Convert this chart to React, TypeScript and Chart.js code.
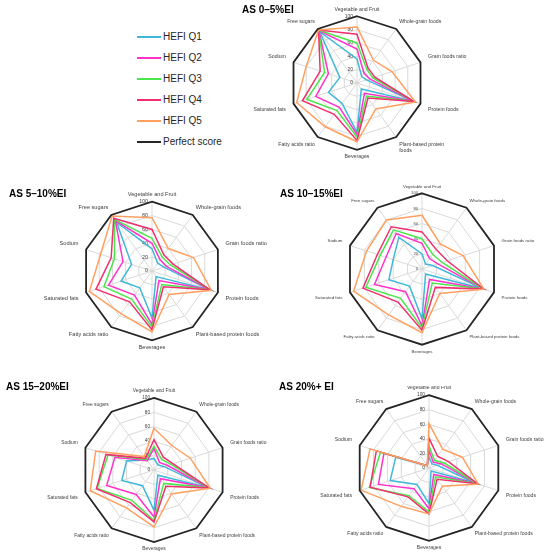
import { useEffect, useRef } from 'react';
import { Chart, registerables } from 'chart.js';

Chart.register(...registerables);

const FONT = '"Liberation Sans", Arial, sans-serif';

const categories = [
  'Vegetable and Fruit',
  'Whole-grain foods',
  'Grain foods ratio',
  'Protein foods',
  'Plant-based protein foods',
  'Beverages',
  'Fatty acids ratio',
  'Saturated fats',
  'Sodium',
  'Free sugars',
];

const seriesNames = ['HEFI Q1', 'HEFI Q2', 'HEFI Q3', 'HEFI Q4', 'HEFI Q5', 'Perfect score'];
const seriesColors = ['#40B8D8', '#FF33CC', '#4CE64C', '#F0306E', '#FFA060', '#262626'];

const perfectScore = [100, 100, 100, 100, 100, 100, 100, 100, 100, 100];

// AS 0–5%EI
const as0to5Q1 = [36, 12, 15, 89, 11, 74, 38, 45, 27, 95];
const as0to5Q2 = [51, 18, 20, 89, 19, 77, 45, 65, 45, 97];
const as0to5Q3 = [60, 25, 25, 90, 24, 81, 51, 79, 51, 98];
const as0to5Q4 = [73, 28, 28, 90, 28, 86, 58, 86, 58, 98];
const as0to5Q5 = [84, 42, 55, 92, 48, 88, 81, 95, 80, 98];

// AS 5–10%EI
const as5to10Q1 = [32, 14, 18, 87, 10, 68, 30, 47, 31, 87];
const as5to10Q2 = [40, 20, 22, 88, 17, 77, 43, 66, 44, 90];
const as5to10Q3 = [47, 25, 28, 88, 24, 81, 50, 73, 57, 92];
const as5to10Q4 = [60, 29, 32, 88, 28, 85, 55, 85, 62, 94];
const as5to10Q5 = [77, 40, 63, 90, 42, 88, 76, 95, 78, 98];

// AS 10–15%EI
const as10to15Q1 = [20, 8, 15, 84, 8, 66, 28, 46, 40, 52];
const as10to15Q2 = [34, 17, 22, 85, 17, 75, 37, 66, 50, 58];
const as10to15Q3 = [40, 24, 28, 85, 23, 78, 48, 78, 58, 64];
const as10to15Q4 = [49, 32, 35, 86, 30, 81, 54, 82, 62, 69];
const as10to15Q5 = [71, 41, 57, 86, 40, 84, 75, 95, 77, 80];

// AS 15–20%EI
const as15to20Q1 = [16, 9, 15, 78, 9, 56, 27, 47, 40, 17];
const as15to20Q2 = [30, 13, 20, 80, 15, 65, 42, 69, 57, 16];
const as15to20Q3 = [33, 18, 25, 80, 23, 70, 52, 83, 67, 18];
const as15to20Q4 = [42, 22, 28, 81, 28, 72, 56, 84, 70, 20];
const as15to20Q5 = [58, 42, 53, 82, 41, 79, 65, 93, 85, 23];

// AS 20%+ EI
const as20plusQ1 = [15, 7, 12, 66, 5, 49, 28, 56, 48, 4];
const as20plusQ2 = [24, 10, 18, 69, 11, 56, 35, 73, 65, 4];
const as20plusQ3 = [30, 13, 22, 70, 15, 60, 47, 86, 70, 4];
const as20plusQ4 = [41, 20, 28, 70, 19, 63, 49, 85, 76, 4];
const as20plusQ5 = [61, 32, 48, 71, 31, 63, 65, 98, 85, 4];

// padding of each axis label, larger on the side axes like Excel does
const labelPadding = [4, 5, 8, 8, 5, 4, 5, 8, 8, 5];

interface PanelProps {
  title: string;
  titleX: number;
  titleY: number;
  cx: number;
  cy: number;
  radius: number;
  fontSize: number;
  labels: (string | string[])[];
  series: number[][];
}

// radial tick labels drawn right-aligned just left of the vertical axis
const leftTicksPlugin = {
  id: 'leftTicks',
  beforeDatasetsDraw(chart: any, _args: any, opts: any) {
    const scale = chart.scales.r;
    const ctx = chart.ctx;
    ctx.save();
    ctx.font = `${opts.size}px ${FONT}`;
    ctx.fillStyle = '#404040';
    ctx.textAlign = 'right';
    ctx.textBaseline = 'middle';
    scale.ticks.forEach((t: any) => {
      const p = scale.getPointPositionForValue(0, t.value);
      ctx.fillText(String(t.value), p.x - 4, p.y);
    });
    ctx.restore();
  },
};

function RadarPanel({ title, titleX, titleY, cx, cy, radius, fontSize, labels, series }: PanelProps) {
  const chartRef = useRef<HTMLCanvasElement>(null);
  const chartInstance = useRef<Chart | null>(null);

  // canvas height so that Chart.js fits the radar to the wanted radius
  const half = Math.round(radius + 4 + 1.2 * fontSize);
  const height = half * 2;
  const halfW = 150;

  useEffect(() => {
    if (!chartRef.current) return;
    if (chartInstance.current) {
      chartInstance.current.destroy();
    }
    const ctx = chartRef.current.getContext('2d');
    if (!ctx) return;

    chartInstance.current = new Chart(ctx, {
      type: 'radar',
      data: {
        labels: labels,
        datasets: [...series, perfectScore].map((values, i) => ({
          label: seriesNames[i],
          data: values,
          borderColor: seriesColors[i],
          backgroundColor: 'transparent',
          borderWidth: i === 5 ? 1.8 : 1.5,
          fill: false,
          pointRadius: 0,
          order: 5 - i,
        })),
      },
      options: {
        responsive: false,
        animation: false,
        plugins: {
          legend: { display: false },
          tooltip: { enabled: false },
          leftTicks: { size: fontSize * 0.95 },
        } as any,
        elements: { line: { tension: 0 } },
        scales: {
          r: {
            min: 0,
            max: 100,
            ticks: { stepSize: 20, display: false },
            grid: { color: '#D9D9D9', lineWidth: 1 },
            angleLines: { color: '#D9D9D9', lineWidth: 1 },
            pointLabels: {
              color: '#404040',
              font: { family: FONT, size: fontSize },
              padding: (c: any) => labelPadding[c.index],
            },
          },
        },
      },
      plugins: [leftTicksPlugin],
    });

    return () => {
      if (chartInstance.current) {
        chartInstance.current.destroy();
        chartInstance.current = null;
      }
    };
  }, [labels, series, fontSize]);

  return (
    <>
      <canvas
        ref={chartRef}
        width={halfW * 2}
        height={height}
        style={{ position: 'absolute', left: cx - halfW, top: cy - half, width: halfW * 2, height }}
      />
      <div
        style={{
          position: 'absolute',
          left: titleX,
          top: titleY - 5,
          font: `bold 10px ${FONT}`,
          lineHeight: '10px',
          color: '#000',
          whiteSpace: 'nowrap',
        }}
      >
        {title}
      </div>
    </>
  );
}

const labelsWrapped = categories.map((c) => (c === 'Plant-based protein foods' ? ['Plant-based protein', 'foods'] : c));

export default function App() {
  useEffect(() => {
    document.body.style.margin = '0';
  }, []);

  return (
    <div style={{ position: 'relative', width: 550, height: 558, overflow: 'hidden', background: '#fff' }}>
      {seriesNames.map((name, i) => (
        <div key={name} style={{ position: 'absolute', left: 137, top: 37.3 + i * 20.85 - 6, height: 12 }}>
          <div style={{ position: 'absolute', left: 0, top: 5, width: 24, height: 2, background: seriesColors[i] }} />
          <div
            style={{
              position: 'absolute',
              left: 26,
              top: 0,
              font: `10px ${FONT}`,
              lineHeight: '12px',
              color: '#262626',
              whiteSpace: 'nowrap',
            }}
          >
            {name}
          </div>
        </div>
      ))}

      <RadarPanel
        title="AS 0–5%EI"
        titleX={242}
        titleY={9.5}
        cx={357}
        cy={84}
        radius={67}
        fontSize={5.2}
        labels={labelsWrapped}
        series={[as0to5Q1, as0to5Q2, as0to5Q3, as0to5Q4, as0to5Q5]}
      />
      <RadarPanel
        title="AS 5–10%EI"
        titleX={9}
        titleY={193.5}
        cx={152}
        cy={271}
        radius={69}
        fontSize={5.6}
        labels={categories}
        series={[as5to10Q1, as5to10Q2, as5to10Q3, as5to10Q4, as5to10Q5]}
      />
      <RadarPanel
        title="AS 10–15%EI"
        titleX={280}
        titleY={193.5}
        cx={422}
        cy={269}
        radius={75.5}
        fontSize={4.4}
        labels={categories}
        series={[as10to15Q1, as10to15Q2, as10to15Q3, as10to15Q4, as10to15Q5]}
      />
      <RadarPanel
        title="AS 15–20%EI"
        titleX={6}
        titleY={386.5}
        cx={154}
        cy={470}
        radius={72}
        fontSize={4.9}
        labels={categories}
        series={[as15to20Q1, as15to20Q2, as15to20Q3, as15to20Q4, as15to20Q5]}
      />
      <RadarPanel
        title="AS 20%+ EI"
        titleX={279}
        titleY={386.5}
        cx={429}
        cy={469}
        radius={73}
        fontSize={5.1}
        labels={categories}
        series={[as20plusQ1, as20plusQ2, as20plusQ3, as20plusQ4, as20plusQ5]}
      />
    </div>
  );
}
